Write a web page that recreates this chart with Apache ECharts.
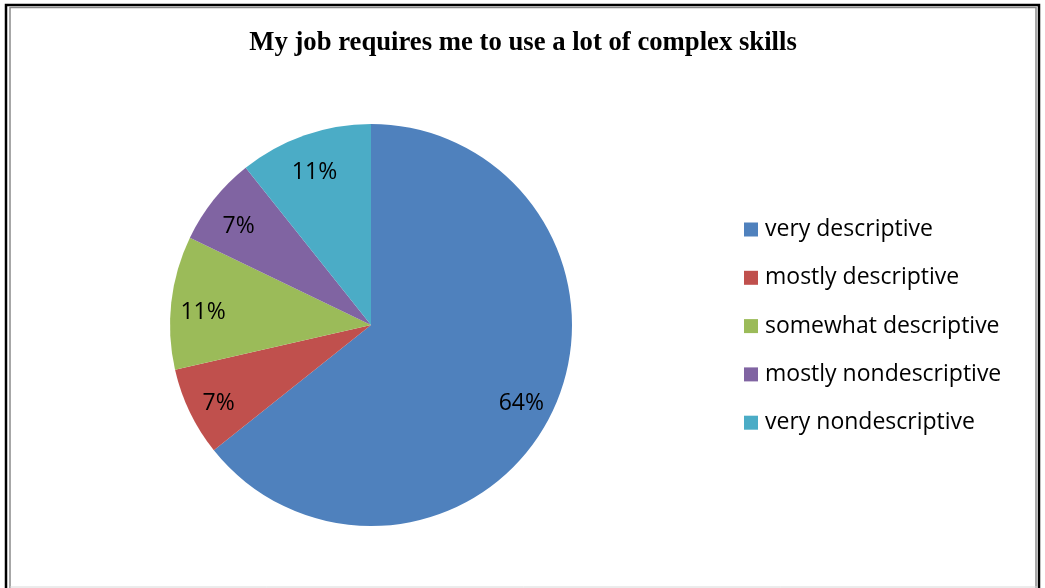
<!DOCTYPE html>
<html>
<head>
<meta charset="utf-8">
<script src="https://cdn.jsdelivr.net/npm/echarts@6/dist/echarts.min.js"></script>
<style>
html,body{margin:0;padding:0;background:#fff;}
#c{width:1045px;height:588px;}
</style>
</head>
<body>
<div id="c"></div>
<script>
const titleText = 'My job requires me to use a lot of complex skills';
const categories = ['very descriptive', 'mostly descriptive', 'somewhat descriptive', 'mostly nondescriptive', 'very nondescriptive'];
const values = [18, 2, 3, 2, 3];
const colors = ['#4F81BD', '#C0504D', '#9BBB59', '#8064A2', '#4BACC6'];

const data = categories.map((n, i) => ({ name: n, value: values[i], itemStyle: { color: colors[i] } }));
const total = values.reduce((a, b) => a + b, 0);
const chart = echarts.init(document.getElementById('c'), null, { renderer: 'canvas' });
chart.setOption({
  backgroundColor: '#fff',
  animation: false,
  title: {
    text: titleText,
    left: 523, top: 30, textAlign: 'center', padding: 0,
    textStyle: { fontFamily: 'Liberation Serif', fontWeight: 'bold', fontSize: 26.7, color: '#000' }
  },
  legend: {
    orient: 'vertical',
    left: 744, top: 218, padding: 0,
    itemWidth: 14, itemHeight: 14, itemGap: 25.3,
    icon: 'rect',
    data: categories,
    textStyle: { fontFamily: 'Open Sans', fontSize: 23, color: '#000', lineHeight: 20, padding: [0, 0, 0, 2] }
  },
  graphic: [
    { type: 'rect', shape: { x: 6, y: 5, width: 1033, height: 620 }, style: { fill: 'none', stroke: '#000', lineWidth: 2.5 }, silent: true },
    { type: 'rect', shape: { x: 10, y: 7.5, width: 1026, height: 620 }, style: { fill: 'none', stroke: '#8a8a8a', lineWidth: 1.5 }, silent: true },
    { type: 'line', shape: { x1: 10, y1: 587, x2: 1037, y2: 587 }, style: { stroke: '#d8d8d8', lineWidth: 1 }, silent: true }
  ],
  series: [
    {
      type: 'pie',
      center: [371, 325],
      radius: [0, 201],
      startAngle: 90,
      clockwise: true,
      data: data,
      label: { show: false },
      labelLine: { show: false },
      itemStyle: { borderColor: '#fff', borderWidth: 0 },
      emphasis: { disabled: true }
    },
    {
      type: 'pie',
      center: [370, 331],
      radius: [129, 201],
      startAngle: 90,
      clockwise: true,
      silent: true,
      data: categories.map((n, i) => ({ name: n, value: values[i] })),
      itemStyle: { color: 'rgba(0,0,0,0)' },
      label: {
        show: true, position: 'inside',
        formatter: p => Math.round(p.value / total * 100) + '%',
        fontFamily: 'Open Sans', fontSize: 23, color: '#000'
      },
      labelLine: { show: false },
      emphasis: { disabled: true }
    }
  ]
});
</script>
</body>
</html>
